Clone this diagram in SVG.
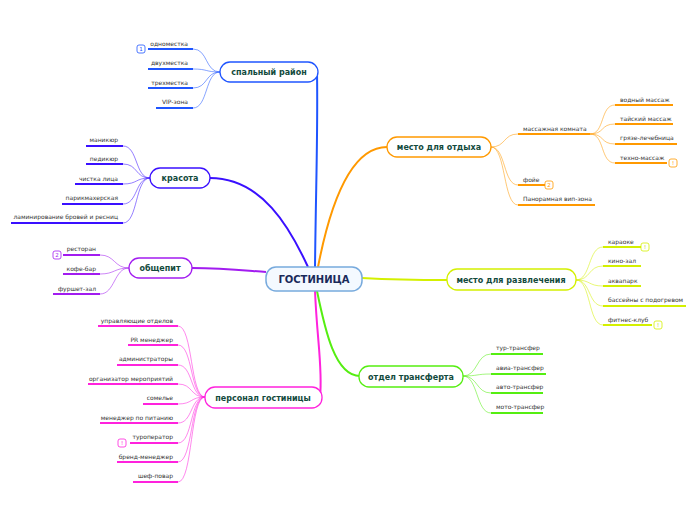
<svg xmlns="http://www.w3.org/2000/svg" width="696" height="520" viewBox="0 0 696 520">
<style>
text{font-family:"DejaVu Sans","Liberation Sans",sans-serif}
.leaf{font-size:6px;fill:#333}
.r{text-anchor:end}
.br{font-size:8px;font-weight:bold;fill:#124a3c;text-anchor:middle}
.box{fill:#fff;stroke-width:1.3}
.ul{stroke-width:2;fill:none}
.cv{stroke-width:0.9;fill:none;opacity:0.6}
.main{stroke-width:2;fill:none}
.bd{fill:#fff;stroke-width:0.8}
.bt{font-size:5.5px;text-anchor:middle}
.c1{stroke:#1f55ff}.c2{stroke:#3a10ff}.c3{stroke:#a21cf0}.c4{stroke:#ff22dd}.c5{stroke:#ff9900}.c6{stroke:#d4f000}.c7{stroke:#55ee11}
</style>
<g id="connectors">
<path class="main c1" d="M315,267 C316,180 318,130 317,72"/>
<path class="main c2" d="M308,267 C290,228 262,178 210,178"/>
<path class="main c3" d="M266,272 C240,270 222,268 192,268"/>
<path class="main c4" d="M315,291 C317,340 323,370 320,397"/>
<path class="main c5" d="M318,267 C330,205 350,147 387,147"/>
<path class="main c6" d="M362,278 C400,280 420,280 447,280"/>
<path class="main c7" d="M317,291 C325,330 335,376 360,376"/>
<g class="c1">
<path class="cv" d="M220,72 C205,72 208,49 193,49"/>
<path class="cv" d="M220,72 C205,72 208,69 193,69"/>
<path class="cv" d="M220,72 C205,72 208,88 193,88"/>
<path class="cv" d="M220,72 C205,72 208,108 193,108"/>
</g>
<g class="c2">
<path class="cv" d="M150,178 C135,178 138,146 123,146"/>
<path class="cv" d="M150,178 C135,178 138,164 123,164"/>
<path class="cv" d="M150,178 C135,178 138,184 123,184"/>
<path class="cv" d="M150,178 C135,178 138,204 123,204"/>
<path class="cv" d="M150,178 C135,178 138,223 123,223"/>
</g>
<g class="c3">
<path class="cv" d="M129,268 C114,268 115,255 100,255"/>
<path class="cv" d="M129,268 C114,268 115,274 100,274"/>
<path class="cv" d="M129,268 C114,268 115,294 100,294"/>
</g>
<g class="c4">
<path class="cv" d="M205,397 C190,397 193,326 178,326"/>
<path class="cv" d="M205,397 C190,397 193,345 178,345"/>
<path class="cv" d="M205,397 C190,397 193,365 178,365"/>
<path class="cv" d="M205,397 C190,397 193,384 178,384"/>
<path class="cv" d="M205,397 C190,397 193,404 178,404"/>
<path class="cv" d="M205,397 C190,397 193,423 178,423"/>
<path class="cv" d="M205,397 C190,397 193,443 178,443"/>
<path class="cv" d="M205,397 C190,397 193,462 178,462"/>
<path class="cv" d="M205,397 C190,397 193,482 178,482"/>
</g>
<g class="c5">
<path class="cv" d="M491,147 C506,147 503,134 518,134"/>
<path class="cv" d="M491,147 C506,147 503,185 518,185"/>
<path class="cv" d="M491,147 C506,147 503,205 518,205"/>
<path class="cv" d="M590,134 C605,134 600,105 615,105"/>
<path class="cv" d="M590,134 C605,134 600,124 615,124"/>
<path class="cv" d="M590,134 C605,134 600,144 615,144"/>
<path class="cv" d="M590,134 C605,134 600,163 615,163"/>
</g>
<g class="c6">
<path class="cv" d="M576,280 C591,280 588,247 603,247"/>
<path class="cv" d="M576,280 C591,280 588,266 603,266"/>
<path class="cv" d="M576,280 C591,280 588,286 603,286"/>
<path class="cv" d="M576,280 C591,280 588,306 603,306"/>
<path class="cv" d="M576,280 C591,280 588,325 603,325"/>
</g>
<g class="c7">
<path class="cv" d="M463,376 C478,376 476,354 491,354"/>
<path class="cv" d="M463,376 C478,376 476,374 491,374"/>
<path class="cv" d="M463,376 C478,376 476,393 491,393"/>
<path class="cv" d="M463,376 C478,376 476,413 491,413"/>
</g>
</g>
<g id="center">
<rect x="266" y="267" width="96" height="24" rx="10" fill="#f4f9ff" stroke="#77aadd" stroke-width="1.5"/>
<text x="314" y="283" font-size="10" font-weight="bold" fill="#1a2a5a" text-anchor="middle">ГОСТИНИЦА</text>
</g>
<g id="spalny">
<rect class="box c1" x="220" y="62" width="98" height="20" rx="10"/>
<text class="br" x="269" y="75">спальный район</text>
<g class="c1">
<line class="ul" x1="148" y1="49" x2="193" y2="49"/><line class="ul" x1="148" y1="69" x2="193" y2="69"/><line class="ul" x1="148" y1="88" x2="193" y2="88"/><line class="ul" x1="156" y1="108" x2="193" y2="108"/>
<rect class="bd" x="137" y="45" width="8" height="8" rx="2"/>
</g>
<text class="bt" x="141" y="51" fill="#1f55ff">1</text>
<text class="leaf r" x="188" y="46">одноместка</text>
<text class="leaf r" x="188" y="65">двухместка</text>
<text class="leaf r" x="188" y="85">трехместка</text>
<text class="leaf r" x="188" y="104">VIP-зона</text>
</g>
<g id="krasota">
<rect class="box c2" x="150" y="168" width="60" height="20" rx="10"/>
<text class="br" x="180" y="181">красота</text>
<g class="c2">
<line class="ul" x1="86" y1="146" x2="123" y2="146"/><line class="ul" x1="86" y1="164" x2="123" y2="164"/><line class="ul" x1="75" y1="184" x2="123" y2="184"/><line class="ul" x1="62" y1="204" x2="123" y2="204"/><line class="ul" x1="11" y1="223" x2="123" y2="223"/>
</g>
<text class="leaf r" x="118" y="142">маникюр</text>
<text class="leaf r" x="118" y="161">педикюр</text>
<text class="leaf r" x="118" y="181">чистка лица</text>
<text class="leaf r" x="118" y="200">парикмахерская</text>
<text class="leaf r" x="118" y="219">ламинирование бровей и ресниц</text>
</g>
<g id="obshchepit">
<rect class="box c3" x="129" y="258" width="63" height="20" rx="10"/>
<text class="br" x="160" y="271">общепит</text>
<g class="c3">
<line class="ul" x1="63" y1="255" x2="100" y2="255"/><line class="ul" x1="63" y1="274" x2="100" y2="274"/><line class="ul" x1="53" y1="294" x2="100" y2="294"/>
<rect class="bd" x="53" y="251" width="8" height="8" rx="2"/>
</g>
<text class="bt" x="57" y="257" fill="#a21cf0">2</text>
<text class="leaf r" x="96" y="251">ресторан</text>
<text class="leaf r" x="96" y="271">кофе-бар</text>
<text class="leaf r" x="96" y="291">фуршет-зал</text>
</g>
<g id="personal">
<rect class="box c4" x="205" y="387" width="117" height="21" rx="10"/>
<text class="br" x="263" y="401">персонал гостиницы</text>
<g class="c4">
<line class="ul" x1="98" y1="326" x2="178" y2="326"/><line class="ul" x1="128" y1="345" x2="178" y2="345"/><line class="ul" x1="117" y1="365" x2="178" y2="365"/><line class="ul" x1="88" y1="384" x2="178" y2="384"/><line class="ul" x1="143" y1="404" x2="178" y2="404"/><line class="ul" x1="100" y1="423" x2="178" y2="423"/><line class="ul" x1="130" y1="443" x2="178" y2="443"/><line class="ul" x1="117" y1="462" x2="178" y2="462"/><line class="ul" x1="133" y1="482" x2="178" y2="482"/>
<rect class="bd" x="118" y="439" width="8" height="8" rx="2"/>
</g>
<text class="bt" x="122" y="445" fill="#ff22dd">!</text>
<text class="leaf r" x="173" y="323">управляющие отделов</text>
<text class="leaf r" x="173" y="342">PR менеджер</text>
<text class="leaf r" x="173" y="361">администраторы</text>
<text class="leaf r" x="173" y="381">организатор мероприятий</text>
<text class="leaf r" x="173" y="400">сомелье</text>
<text class="leaf r" x="173" y="420">менеджер по питанию</text>
<text class="leaf r" x="173" y="439">туроператор</text>
<text class="leaf r" x="173" y="459">бренд-менеджер</text>
<text class="leaf r" x="173" y="478">шеф-повар</text>
</g>
<g id="otdykh">
<rect class="box c5" x="387" y="137" width="104" height="20" rx="10"/>
<text class="br" x="439" y="150">место для отдыха</text>
<g class="c5">
<line class="ul" x1="518" y1="134" x2="590" y2="134"/><line class="ul" x1="518" y1="185" x2="545" y2="185"/><line class="ul" x1="518" y1="205" x2="595" y2="205"/>
<line class="ul" x1="615" y1="105" x2="673" y2="105"/><line class="ul" x1="615" y1="124" x2="673" y2="124"/><line class="ul" x1="615" y1="144" x2="677" y2="144"/><line class="ul" x1="615" y1="163" x2="667" y2="163"/>
<rect class="bd" x="669" y="159" width="8" height="8" rx="2"/>
<rect class="bd" x="545" y="181" width="8" height="8" rx="2"/>
</g>
<text class="bt" x="673" y="165" fill="#ff9900">!</text>
<text class="bt" x="549" y="187" fill="#ff9900">2</text>
<text class="leaf" x="523" y="131">массажная комната</text>
<text class="leaf" x="523" y="182">фойе</text>
<text class="leaf" x="523" y="201">Панорамная вип-зона</text>
<text class="leaf" x="620" y="102">водный массаж</text>
<text class="leaf" x="620" y="121">тайский массаж</text>
<text class="leaf" x="620" y="140">грязе-лечебница</text>
<text class="leaf" x="620" y="160">техно-массаж</text>
</g>
<g id="razvlechenie">
<rect class="box c6" x="447" y="269" width="129" height="21" rx="10"/>
<text class="br" x="511" y="283">место для развлечения</text>
<g class="c6">
<line class="ul" x1="603" y1="247" x2="641" y2="247"/><line class="ul" x1="603" y1="266" x2="641" y2="266"/><line class="ul" x1="603" y1="286" x2="641" y2="286"/><line class="ul" x1="603" y1="306" x2="686" y2="306"/><line class="ul" x1="603" y1="325" x2="652" y2="325"/>
<rect class="bd" x="641" y="243" width="8" height="8" rx="2"/>
<rect class="bd" x="654" y="321" width="8" height="8" rx="2"/>
</g>
<text class="bt" x="645" y="249" fill="#c4dd00">!</text>
<text class="bt" x="658" y="327" fill="#c4dd00">!</text>
<text class="leaf" x="608" y="244">караоке</text>
<text class="leaf" x="608" y="263">кино-зал</text>
<text class="leaf" x="608" y="283">аквапарк</text>
<text class="leaf" x="608" y="302">бассейны с подогревом</text>
<text class="leaf" x="608" y="322">фитнес-клуб</text>
</g>
<g id="transfer">
<rect class="box c7" x="359" y="366" width="104" height="21" rx="10"/>
<text class="br" x="411" y="380">отдел трансферта</text>
<g class="c7">
<line class="ul" x1="491" y1="354" x2="543" y2="354"/><line class="ul" x1="491" y1="374" x2="546" y2="374"/><line class="ul" x1="491" y1="393" x2="543" y2="393"/><line class="ul" x1="491" y1="413" x2="543" y2="413"/>
</g>
<text class="leaf" x="496" y="350">тур-трансфер</text>
<text class="leaf" x="496" y="370">авиа-трансфер</text>
<text class="leaf" x="496" y="389">авто-трансфер</text>
<text class="leaf" x="496" y="409">мото-трансфер</text>
</g>
</svg>
